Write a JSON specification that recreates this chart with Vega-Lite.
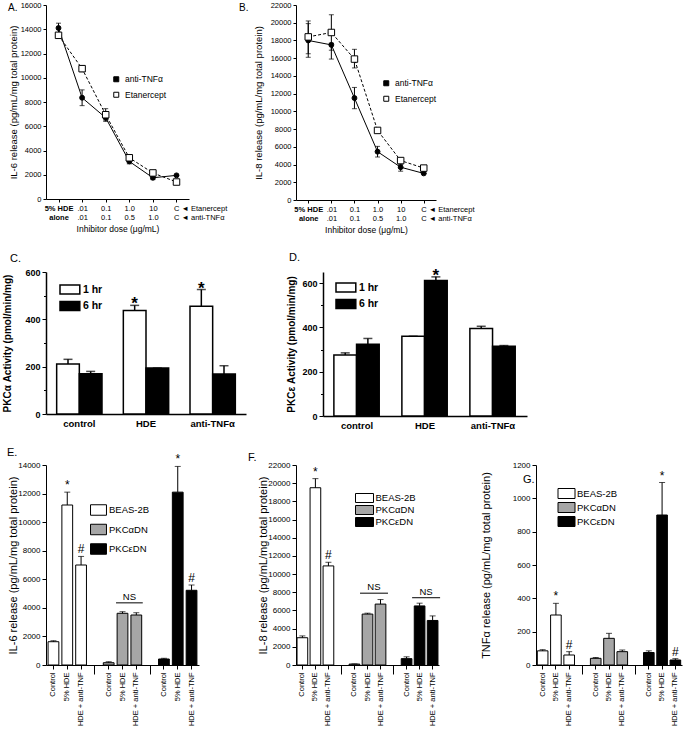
{
  "$schema": "https://vega.github.io/schema/vega-lite/v6.json",
  "background": "white",
  "padding": {"left": 1, "top": 1, "right": 2, "bottom": 2},
  "spacing": 17,
  "resolve": {"scale": {"fill": "independent"}},
  "config": {
    "font": "Liberation Sans",
    "view": {"stroke": null},
    "axis": {"domainColor": "black", "tickColor": "black", "labelColor": "black", "titleColor": "black", "grid": false, "domainWidth": 1, "tickWidth": 1},
    "title": {"color": "black", "fontWeight": "normal", "fontSize": 11, "frame": "group"},
    "legend": {"labelColor": "black", "padding": 0}
  },
  "vconcat": [
    {
      "resolve": {"scale": {"fill": "independent"}},
      "hconcat": [
        {
          "width": 143, "height": 194,
          "title": {"text": "A.", "anchor": "start", "frame": "group", "dx": -38, "offset": -12, "fontSize": 10},
          "data": {"values": [
            {"dose": "5% HDE|alone", "series": "anti-TNFα", "value": 14100, "lo": 13700, "hi": 14500},
            {"dose": ".01|.01", "series": "anti-TNFα", "value": 8350, "lo": 7700, "hi": 9000},
            {"dose": "0.1|0.1", "series": "anti-TNFα", "value": 6700, "lo": 6400, "hi": 7000},
            {"dose": "1.0|0.5", "series": "anti-TNFα", "value": 3100, "lo": 2900, "hi": 3300},
            {"dose": "10|1.0", "series": "anti-TNFα", "value": 1750, "lo": 1600, "hi": 1900},
            {"dose": "C|C", "series": "anti-TNFα", "value": 1950, "lo": 1950, "hi": 1950},
            {"dose": "5% HDE|alone", "series": "Etanercept", "value": 13500, "lo": 13400, "hi": 13600},
            {"dose": ".01|.01", "series": "Etanercept", "value": 10750, "lo": 10500, "hi": 11000},
            {"dose": "0.1|0.1", "series": "Etanercept", "value": 6950, "lo": 6500, "hi": 7450},
            {"dose": "1.0|0.5", "series": "Etanercept", "value": 3400, "lo": 3250, "hi": 3550},
            {"dose": "10|1.0", "series": "Etanercept", "value": 2150, "lo": 2100, "hi": 2200},
            {"dose": "C|C", "series": "Etanercept", "value": 1400, "lo": 1350, "hi": 1450}
          ]},
          "encoding": {
            "x": {"field": "dose", "type": "ordinal", "sort": null,
              "scale": {"type": "point", "padding": 0.53},
              "axis": {"title": "Inhibitor dose (μg/mL)", "titleFontSize": 8.5, "titleFontWeight": "normal", "titlePadding": 3,
                "labelAngle": 0, "labelFontSize": 7.5, "labelLineHeight": 9.5, "tickSize": 3, "labelPadding": 2,
                "labelExpr": "datum.value == 'C|C' ? ['C  ◄ Etanercept', 'C  ◄ anti-TNFα'] : split(datum.value, '|')",
                "labelAlign": {"condition": {"test": "datum.value == 'C|C'", "value": "left"}, "value": "center"},
                "labelOffset": {"condition": {"test": "datum.value == 'C|C'", "value": -3}, "value": 0},
                "labelFontWeight": {"condition": {"test": "datum.value == '5% HDE|alone'", "value": "bold"}, "value": "normal"}}}
          },
          "layer": [
            {"mark": {"type": "rule", "color": "black", "strokeWidth": 1},
              "encoding": {"y": {"field": "lo", "type": "quantitative", "scale": {"domain": [0, 16000]}, "title": "IL-6 release (pg/mL/mg total protein)",
                  "axis": {"values": [0, 2000, 4000, 6000, 8000, 10000, 12000, 14000, 16000], "tickCount": 50, "format": "d", "labelOverlap": false, "labelFontSize": 7.5, "tickSize": 3, "titleFontSize": 9.5, "titleFontWeight": "normal", "titleX": -28}},
                "y2": {"field": "hi"}}},
            {"mark": {"type": "tick", "color": "black", "thickness": 1, "size": 5},
              "encoding": {"y": {"field": "lo", "type": "quantitative"}}},
            {"mark": {"type": "tick", "color": "black", "thickness": 1, "size": 5},
              "encoding": {"y": {"field": "hi", "type": "quantitative"}}},
            {"transform": [{"filter": "datum.series == 'anti-TNFα'"}],
              "mark": {"type": "line", "color": "black", "strokeWidth": 1},
              "encoding": {"y": {"field": "value", "type": "quantitative", "title": "IL-6 release (pg/mL/mg total protein)"}}},
            {"transform": [{"filter": "datum.series == 'Etanercept'"}],
              "mark": {"type": "line", "color": "black", "strokeWidth": 1, "strokeDash": [3, 2]},
              "encoding": {"y": {"field": "value", "type": "quantitative", "title": "IL-6 release (pg/mL/mg total protein)"}}},
            {"mark": {"type": "point", "filled": true, "stroke": "black", "strokeWidth": 1, "opacity": 1},
              "encoding": {
                "y": {"field": "value", "type": "quantitative"},
                "shape": {"condition": {"test": "datum.series == 'anti-TNFα'", "value": "circle"}, "value": "square"},
                "size": {"condition": {"test": "datum.series == 'anti-TNFα'", "value": 24}, "value": 42},
                "fill": {"field": "series", "type": "nominal", "scale": {"domain": ["anti-TNFα", "Etanercept"], "range": ["black", "white"]},
                  "legend": {"title": null, "orient": "none", "legendX": 66, "legendY": 70, "labelFontSize": 8.5, "symbolSize": 25, "labelOffset": 4.5, "symbolStrokeColor": "black", "symbolStrokeWidth": 1, "rowPadding": 5.5,
                    "encode": {"symbols": {"update": {
                      "shape": {"signal": "datum.value == 'anti-TNFα' ? 'M-2.4,0H2.4M-1,0A1,1 0 1,1 1,0A1,1 0 1,1 -1,0Z' : 'M-2.6,0H-1.3M1.3,0H2.6M-1.3,-1.3H1.3V1.3H-1.3Z'"},
                      "stroke": {"value": "black"}, "opacity": {"value": 1}}}}}}}}
          ]
        },
        {
          "width": 140, "height": 195,
          "title": {"text": "B.", "anchor": "start", "frame": "group", "dx": -57, "offset": -12, "fontSize": 10},
          "data": {"values": [
            {"dose": "5% HDE|alone", "series": "anti-TNFα", "value": 18000, "lo": 16100, "hi": 19900},
            {"dose": ".01|.01", "series": "anti-TNFα", "value": 17500, "lo": 15900, "hi": 17700},
            {"dose": "0.1|0.1", "series": "anti-TNFα", "value": 11500, "lo": 10300, "hi": 12700},
            {"dose": "1.0|0.5", "series": "anti-TNFα", "value": 5450, "lo": 4850, "hi": 6050},
            {"dose": "10|1.0", "series": "anti-TNFα", "value": 3700, "lo": 3250, "hi": 4000},
            {"dose": "C|C", "series": "anti-TNFα", "value": 3000, "lo": 3000, "hi": 3000},
            {"dose": "5% HDE|alone", "series": "Etanercept", "value": 18400, "lo": 16500, "hi": 20200},
            {"dose": ".01|.01", "series": "Etanercept", "value": 18900, "lo": 16900, "hi": 20900},
            {"dose": "0.1|0.1", "series": "Etanercept", "value": 15900, "lo": 14900, "hi": 17000},
            {"dose": "1.0|0.5", "series": "Etanercept", "value": 7850, "lo": 7650, "hi": 8050},
            {"dose": "10|1.0", "series": "Etanercept", "value": 4450, "lo": 4350, "hi": 4550},
            {"dose": "C|C", "series": "Etanercept", "value": 3600, "lo": 3500, "hi": 3700}
          ]},
          "encoding": {
            "x": {"field": "dose", "type": "ordinal", "sort": null,
              "scale": {"type": "point", "padding": 0.53},
              "axis": {"title": "Inhibitor dose (μg/mL)", "titleFontSize": 8.5, "titleFontWeight": "normal", "titlePadding": 3,
                "labelAngle": 0, "labelFontSize": 7.5, "labelLineHeight": 9.5, "tickSize": 3, "labelPadding": 2,
                "labelExpr": "datum.value == 'C|C' ? ['C  ◄ Etanercept', 'C  ◄ anti-TNFα'] : split(datum.value, '|')",
                "labelAlign": {"condition": {"test": "datum.value == 'C|C'", "value": "left"}, "value": "center"},
                "labelOffset": {"condition": {"test": "datum.value == 'C|C'", "value": -3}, "value": 0},
                "labelFontWeight": {"condition": {"test": "datum.value == '5% HDE|alone'", "value": "bold"}, "value": "normal"}}}
          },
          "layer": [
            {"mark": {"type": "rule", "color": "black", "strokeWidth": 1},
              "encoding": {"y": {"field": "lo", "type": "quantitative", "scale": {"domain": [0, 22000]}, "title": "IL-8 release (pg/mL/mg total protein)",
                  "axis": {"values": [0, 2000, 4000, 6000, 8000, 10000, 12000, 14000, 16000, 18000, 20000, 22000], "tickCount": 50, "format": "d", "labelOverlap": false, "labelFontSize": 7.5, "tickSize": 3, "titleFontSize": 9.5, "titleFontWeight": "normal", "titleX": -33}},
                "y2": {"field": "hi"}}},
            {"mark": {"type": "tick", "color": "black", "thickness": 1, "size": 5},
              "encoding": {"y": {"field": "lo", "type": "quantitative"}}},
            {"mark": {"type": "tick", "color": "black", "thickness": 1, "size": 5},
              "encoding": {"y": {"field": "hi", "type": "quantitative"}}},
            {"transform": [{"filter": "datum.series == 'anti-TNFα'"}],
              "mark": {"type": "line", "color": "black", "strokeWidth": 1},
              "encoding": {"y": {"field": "value", "type": "quantitative", "title": "IL-8 release (pg/mL/mg total protein)"}}},
            {"transform": [{"filter": "datum.series == 'Etanercept'"}],
              "mark": {"type": "line", "color": "black", "strokeWidth": 1, "strokeDash": [3, 2]},
              "encoding": {"y": {"field": "value", "type": "quantitative", "title": "IL-8 release (pg/mL/mg total protein)"}}},
            {"mark": {"type": "point", "filled": true, "stroke": "black", "strokeWidth": 1, "opacity": 1},
              "encoding": {
                "y": {"field": "value", "type": "quantitative"},
                "shape": {"condition": {"test": "datum.series == 'anti-TNFα'", "value": "circle"}, "value": "square"},
                "size": {"condition": {"test": "datum.series == 'anti-TNFα'", "value": 24}, "value": 42},
                "fill": {"field": "series", "type": "nominal", "scale": {"domain": ["anti-TNFα", "Etanercept"], "range": ["black", "white"]},
                  "legend": {"title": null, "orient": "none", "legendX": 86, "legendY": 74, "labelFontSize": 8.5, "symbolSize": 25, "labelOffset": 4.5, "symbolStrokeColor": "black", "symbolStrokeWidth": 1, "rowPadding": 5.5,
                    "encode": {"symbols": {"update": {
                      "shape": {"signal": "datum.value == 'anti-TNFα' ? 'M-2.4,0H2.4M-1,0A1,1 0 1,1 1,0A1,1 0 1,1 -1,0Z' : 'M-2.6,0H-1.3M1.3,0H2.6M-1.3,-1.3H1.3V1.3H-1.3Z'"},
                      "stroke": {"value": "black"}, "opacity": {"value": 1}}}}}}}}
          ]
        }
      ],
      "bounds": "flush",
      "spacing": 107
    },
    {
      "resolve": {"scale": {"fill": "independent"}},
      "hconcat": [
        {
          "width": 200, "height": 142,
          "title": {"text": "C.", "anchor": "start", "frame": "group", "dx": -36, "fontSize": 11},
          "data": {"values": [
            {"grp": "control", "time": "1 hr", "value": 211, "hi": 231},
            {"grp": "control", "time": "6 hr", "value": 170, "hi": 180},
            {"grp": "HDE", "time": "1 hr", "value": 437, "hi": 459, "note": "*"},
            {"grp": "HDE", "time": "6 hr", "value": 194, "hi": 194},
            {"grp": "anti-TNFα", "time": "1 hr", "value": 455, "hi": 526, "note": "*"},
            {"grp": "anti-TNFα", "time": "6 hr", "value": 169, "hi": 204}
          ]},
          "encoding": {
            "x": {"field": "grp", "type": "nominal", "sort": ["control", "HDE", "anti-TNFα"],
              "scale": {"paddingInner": 0.32, "paddingOuter": 0.16},
              "axis": {"title": null, "labelAngle": 0, "ticks": false, "labelFontWeight": "bold", "labelFontSize": 9.5, "labelPadding": 4, "domainWidth": 1.5}},
            "xOffset": {"field": "time", "type": "nominal", "sort": ["1 hr", "6 hr"], "scale": {"paddingInner": 0, "paddingOuter": 0}}
          },
          "layer": [
            {"mark": {"type": "bar", "stroke": "black", "strokeWidth": 1.5},
              "encoding": {
                "y": {"field": "value", "type": "quantitative", "scale": {"domain": [0, 600]},
                  "axis": {"title": "PKCα Activity (pmol/min/mg)", "titleFontSize": 10, "titleFontWeight": "bold", "labelFontSize": 9, "labelFontWeight": "bold", "domainWidth": 1.5, "labelOverlap": false, "titleX": -34,
                    "values": [0, 100, 200, 300, 400, 500, 600], "tickCount": 50, "labelExpr": "datum.value % 200 == 0 ? datum.label : ''",
                    "tickSize": {"condition": {"test": "datum.value % 200 == 0", "value": 4}, "value": 2.5}}},
                "fill": {"field": "time", "type": "nominal", "scale": {"domain": ["1 hr", "6 hr"], "range": ["white", "black"]},
                  "legend": {"title": null, "orient": "none", "legendX": 18.4, "legendY": 12, "symbolType": "M-2.2,-1H2.2V1H-2.2Z", "symbolSize": 81, "symbolStrokeColor": "black", "symbolStrokeWidth": 1.5, "labelFontWeight": "bold", "labelFontSize": 10.5, "labelOffset": 7.5, "rowPadding": 1.5}}}},
            {"mark": {"type": "rule", "color": "black", "strokeWidth": 1.5},
              "encoding": {"y": {"field": "value", "type": "quantitative"}, "y2": {"field": "hi"}}},
            {"mark": {"type": "tick", "color": "black", "thickness": 1.5, "size": 9},
              "encoding": {"y": {"field": "hi", "type": "quantitative"}}},
            {"transform": [{"filter": "datum.note"}],
              "mark": {"type": "text", "fontSize": 17, "fontWeight": "bold", "baseline": "alphabetic", "dy": 4},
              "encoding": {"y": {"field": "hi", "type": "quantitative"}, "text": {"field": "note"}}}
          ]
        },
        {
          "width": 204, "height": 144,
          "title": {"text": "D.", "anchor": "start", "frame": "group", "dx": -34, "fontSize": 11},
          "data": {"values": [
            {"grp": "control", "time": "1 hr", "value": 275, "hi": 285},
            {"grp": "control", "time": "6 hr", "value": 324, "hi": 350},
            {"grp": "HDE", "time": "1 hr", "value": 360, "hi": 360},
            {"grp": "HDE", "time": "6 hr", "value": 612, "hi": 628, "note": "*"},
            {"grp": "anti-TNFα", "time": "1 hr", "value": 395, "hi": 405},
            {"grp": "anti-TNFα", "time": "6 hr", "value": 315, "hi": 318}
          ]},
          "encoding": {
            "x": {"field": "grp", "type": "nominal", "sort": ["control", "HDE", "anti-TNFα"],
              "scale": {"paddingInner": 0.32, "paddingOuter": 0.16},
              "axis": {"title": null, "labelAngle": 0, "ticks": false, "labelFontWeight": "bold", "labelFontSize": 9.5, "labelPadding": 4, "domainWidth": 1.5}},
            "xOffset": {"field": "time", "type": "nominal", "sort": ["1 hr", "6 hr"], "scale": {"paddingInner": 0, "paddingOuter": 0}}
          },
          "layer": [
            {"mark": {"type": "bar", "stroke": "black", "strokeWidth": 1.5},
              "encoding": {
                "y": {"field": "value", "type": "quantitative", "scale": {"domain": [0, 650]},
                  "axis": {"title": "PKCε Activity (pmol/min/mg)", "titleFontSize": 10, "titleFontWeight": "bold", "labelFontSize": 9, "labelFontWeight": "bold", "domainWidth": 1.5, "labelOverlap": false, "titleX": -27,
                    "values": [0, 100, 200, 300, 400, 500, 600], "tickCount": 50, "labelExpr": "datum.value % 200 == 0 ? datum.label : ''",
                    "tickSize": {"condition": {"test": "datum.value % 200 == 0", "value": 4}, "value": 2.5}}},
                "fill": {"field": "time", "type": "nominal", "scale": {"domain": ["1 hr", "6 hr"], "range": ["white", "black"]},
                  "legend": {"title": null, "orient": "none", "legendX": 17.4, "legendY": 10, "symbolType": "M-2.2,-1H2.2V1H-2.2Z", "symbolSize": 81, "symbolStrokeColor": "black", "symbolStrokeWidth": 1.5, "labelFontWeight": "bold", "labelFontSize": 10.5, "labelOffset": 7.5, "rowPadding": 1.5}}}},
            {"mark": {"type": "rule", "color": "black", "strokeWidth": 1.5},
              "encoding": {"y": {"field": "value", "type": "quantitative"}, "y2": {"field": "hi"}}},
            {"mark": {"type": "tick", "color": "black", "thickness": 1.5, "size": 9},
              "encoding": {"y": {"field": "hi", "type": "quantitative"}}},
            {"transform": [{"filter": "datum.note"}],
              "mark": {"type": "text", "fontSize": 17, "fontWeight": "bold", "baseline": "alphabetic", "dy": 4},
              "encoding": {"y": {"field": "hi", "type": "quantitative"}, "text": {"field": "note"}}}
          ]
        }
      ],
      "bounds": "flush",
      "spacing": 77
    },
    {
      "resolve": {"scale": {"fill": "independent"}},
      "hconcat": [
        {
          "width": 153, "height": 200,
          "title": {"text": "E.", "anchor": "start", "frame": "group", "dx": -39, "offset": -5, "fontSize": 11},
          "data": {"values": [
            {"cat": "b:Control", "cell": "BEAS-2B", "value": 1630, "hi": 1700},
            {"cat": "b:5% HDE", "cell": "BEAS-2B", "value": 11200, "hi": 12100, "note": "*"},
            {"cat": "b:HDE + anti-TNF", "cell": "BEAS-2B", "value": 7000, "hi": 7600, "note": "#"},
            {"cat": "a:Control", "cell": "PKCαDN", "value": 160, "hi": 230},
            {"cat": "a:5% HDE", "cell": "PKCαDN", "value": 3620, "hi": 3730},
            {"cat": "a:HDE + anti-TNF", "cell": "PKCαDN", "value": 3500, "hi": 3660},
            {"cat": "e:Control", "cell": "PKCεDN", "value": 420, "hi": 470},
            {"cat": "e:5% HDE", "cell": "PKCεDN", "value": 12100, "hi": 13900, "note": "*"},
            {"cat": "e:HDE + anti-TNF", "cell": "PKCεDN", "value": 5230, "hi": 5600, "note": "#"}
          ]},
          "encoding": {
            "x": {"field": "cat", "type": "nominal",
              "scale": {"domain": ["b:Control", "b:5% HDE", "b:HDE + anti-TNF", "gap1", "a:Control", "a:5% HDE", "a:HDE + anti-TNF", "gap2", "e:Control", "e:5% HDE", "e:HDE + anti-TNF"], "paddingInner": 0.22, "paddingOuter": 0.15},
              "axis": {"title": null, "labelAngle": -90, "labelFontSize": 7.5, "labelPadding": 3,
                "labelExpr": "indexof(datum.value, ':') > 0 ? split(datum.value, ':')[1] : ''",
                "tickSize": {"condition": {"test": "indexof(datum.value, 'gap') == 0", "value": 9}, "value": 4}}}
          },
          "layer": [
            {"mark": {"type": "bar", "stroke": "black", "strokeWidth": 1},
              "encoding": {
                "y": {"field": "value", "type": "quantitative", "scale": {"domain": [0, 14000]},
                  "axis": {"title": "IL-6 release (pg/mL/mg total protein)", "titleFontSize": 11, "titleFontWeight": "normal", "labelFontSize": 8, "format": "d", "tickSize": 4, "labelOverlap": false, "titleX": -28,
                    "values": [0, 2000, 4000, 6000, 8000, 10000, 12000, 14000], "tickCount": 50}},
                "fill": {"field": "cell", "type": "nominal", "scale": {"domain": ["BEAS-2B", "PKCαDN", "PKCεDN"], "range": ["white", "#a6a6a6", "black"]},
                  "legend": {"title": null, "orient": "none", "legendX": 46.5, "legendY": 39, "symbolType": "M-1.52,-1H1.52V1H-1.52Z", "symbolSize": 110, "symbolStrokeColor": "black", "symbolStrokeWidth": 1, "labelFontSize": 9.5, "labelOffset": 4.5, "rowPadding": 3.5}}}},
            {"mark": {"type": "rule", "color": "black", "strokeWidth": 1},
              "encoding": {"y": {"field": "value", "type": "quantitative"}, "y2": {"field": "hi"}}},
            {"mark": {"type": "tick", "color": "black", "thickness": 1, "size": 6},
              "encoding": {"y": {"field": "hi", "type": "quantitative"}}},
            {"transform": [{"filter": "datum.note"}],
              "mark": {"type": "text", "fontSize": 12, "baseline": "alphabetic", "dy": -3},
              "encoding": {"y": {"field": "hi", "type": "quantitative"}, "text": {"field": "note"}}},
            {"data": {"values": [{"from": "a:5% HDE", "to": "a:HDE + anti-TNF", "y": 4350, "label": "NS"}]},
              "mark": {"type": "rule", "color": "black", "strokeWidth": 1},
              "encoding": {"x": {"field": "from", "type": "nominal", "bandPosition": -0.1}, "x2": {"field": "to", "bandPosition": 1.1}, "y": {"field": "y", "type": "quantitative"}}},
            {"data": {"values": [{"from": "a:5% HDE", "to": "a:HDE + anti-TNF", "y": 4350, "label": "NS"}]},
              "mark": {"type": "text", "fontSize": 9.5, "baseline": "alphabetic", "dy": -3},
              "encoding": {"x": {"field": "from", "type": "nominal", "bandPosition": 1.14}, "y": {"field": "y", "type": "quantitative"}, "text": {"field": "label"}}}
          ]
        },
        {
          "width": 143, "height": 200,
          "title": {"text": "F.", "anchor": "start", "frame": "group", "dx": -48, "offset": -2, "fontSize": 11},
          "data": {"values": [
            {"cat": "b:Control", "cell": "BEAS-2B", "value": 3000, "hi": 3200},
            {"cat": "b:5% HDE", "cell": "BEAS-2B", "value": 19500, "hi": 20500, "note": "*"},
            {"cat": "b:HDE + anti-TNF", "cell": "BEAS-2B", "value": 10900, "hi": 11300, "note": "#"},
            {"cat": "a:Control", "cell": "PKCαDN", "value": 100, "hi": 120},
            {"cat": "a:5% HDE", "cell": "PKCαDN", "value": 5600, "hi": 5700},
            {"cat": "a:HDE + anti-TNF", "cell": "PKCαDN", "value": 6700, "hi": 7200},
            {"cat": "e:Control", "cell": "PKCεDN", "value": 700, "hi": 900},
            {"cat": "e:5% HDE", "cell": "PKCεDN", "value": 6500, "hi": 6800},
            {"cat": "e:HDE + anti-TNF", "cell": "PKCεDN", "value": 4900, "hi": 5400}
          ]},
          "encoding": {
            "x": {"field": "cat", "type": "nominal",
              "scale": {"domain": ["b:Control", "b:5% HDE", "b:HDE + anti-TNF", "gap1", "a:Control", "a:5% HDE", "a:HDE + anti-TNF", "gap2", "e:Control", "e:5% HDE", "e:HDE + anti-TNF"], "paddingInner": 0.18, "paddingOuter": 0.08},
              "axis": {"title": null, "labelAngle": -90, "labelFontSize": 7.5, "labelPadding": 3,
                "labelExpr": "indexof(datum.value, ':') > 0 ? split(datum.value, ':')[1] : ''",
                "tickSize": {"condition": {"test": "indexof(datum.value, 'gap') == 0", "value": 9}, "value": 4}}}
          },
          "layer": [
            {"mark": {"type": "bar", "stroke": "black", "strokeWidth": 1},
              "encoding": {
                "y": {"field": "value", "type": "quantitative", "scale": {"domain": [0, 22000]},
                  "axis": {"title": "IL-8 release (pg/mL/mg total protein)", "titleFontSize": 11, "titleFontWeight": "normal", "labelFontSize": 8, "format": "d", "tickSize": 4, "labelOverlap": false, "titleX": -28,
                    "values": [0, 2000, 4000, 6000, 8000, 10000, 12000, 14000, 16000, 18000, 20000, 22000], "tickCount": 50}},
                "fill": {"field": "cell", "type": "nominal", "scale": {"domain": ["BEAS-2B", "PKCαDN", "PKCεDN"], "range": ["white", "#a6a6a6", "black"]},
                  "legend": {"title": null, "orient": "none", "legendX": 63.5, "legendY": 28, "symbolType": "M-2,-1H2V1H-2Z", "symbolSize": 81, "symbolStrokeColor": "black", "symbolStrokeWidth": 1, "labelFontSize": 9.5, "labelOffset": 6, "rowPadding": -5}}}},
            {"mark": {"type": "rule", "color": "black", "strokeWidth": 1},
              "encoding": {"y": {"field": "value", "type": "quantitative"}, "y2": {"field": "hi"}}},
            {"mark": {"type": "tick", "color": "black", "thickness": 1, "size": 6},
              "encoding": {"y": {"field": "hi", "type": "quantitative"}}},
            {"transform": [{"filter": "datum.note"}],
              "mark": {"type": "text", "fontSize": 12, "baseline": "alphabetic", "dy": -3},
              "encoding": {"y": {"field": "hi", "type": "quantitative"}, "text": {"field": "note"}}},
            {"data": {"values": [{"from": "a:5% HDE", "to": "a:HDE + anti-TNF", "y": 7900, "label": "NS"}, {"from": "e:5% HDE", "to": "e:HDE + anti-TNF", "y": 7400, "label": "NS"}]},
              "mark": {"type": "rule", "color": "black", "strokeWidth": 1},
              "encoding": {"x": {"field": "from", "type": "nominal", "bandPosition": -0.2}, "x2": {"field": "to", "bandPosition": 1.2}, "y": {"field": "y", "type": "quantitative"}}},
            {"data": {"values": [{"from": "a:5% HDE", "to": "a:HDE + anti-TNF", "y": 7900, "label": "NS"}, {"from": "e:5% HDE", "to": "e:HDE + anti-TNF", "y": 7400, "label": "NS"}]},
              "mark": {"type": "text", "fontSize": 9.5, "baseline": "alphabetic", "dy": -3},
              "encoding": {"x": {"field": "from", "type": "nominal", "bandPosition": 1.1}, "y": {"field": "y", "type": "quantitative"}, "text": {"field": "label"}}}
          ]
        },
        {
          "width": 146, "height": 200,
          "title": {"text": "G.", "anchor": "start", "frame": "group", "dx": -13, "offset": -24, "fontSize": 11},
          "data": {"values": [
            {"cat": "b:Control", "cell": "BEAS-2B", "value": 85, "hi": 92},
            {"cat": "b:5% HDE", "cell": "BEAS-2B", "value": 300, "hi": 370, "note": "*"},
            {"cat": "b:HDE + anti-TNF", "cell": "BEAS-2B", "value": 60, "hi": 80, "note": "#"},
            {"cat": "a:Control", "cell": "PKCαDN", "value": 40, "hi": 45},
            {"cat": "a:5% HDE", "cell": "PKCαDN", "value": 160, "hi": 190},
            {"cat": "a:HDE + anti-TNF", "cell": "PKCαDN", "value": 80, "hi": 90},
            {"cat": "e:Control", "cell": "PKCεDN", "value": 75, "hi": 85},
            {"cat": "e:5% HDE", "cell": "PKCεDN", "value": 900, "hi": 1095, "note": "*"},
            {"cat": "e:HDE + anti-TNF", "cell": "PKCεDN", "value": 30, "hi": 38, "note": "#"}
          ]},
          "encoding": {
            "x": {"field": "cat", "type": "nominal",
              "scale": {"domain": ["b:Control", "b:5% HDE", "b:HDE + anti-TNF", "gap1", "a:Control", "a:5% HDE", "a:HDE + anti-TNF", "gap2", "e:Control", "e:5% HDE", "e:HDE + anti-TNF"], "paddingInner": 0.2, "paddingOuter": 0.1},
              "axis": {"title": null, "labelAngle": -90, "labelFontSize": 7.5, "labelPadding": 3,
                "labelExpr": "indexof(datum.value, ':') > 0 ? split(datum.value, ':')[1] : ''",
                "tickSize": {"condition": {"test": "indexof(datum.value, 'gap') == 0", "value": 9}, "value": 4}}}
          },
          "layer": [
            {"mark": {"type": "bar", "stroke": "black", "strokeWidth": 1},
              "encoding": {
                "y": {"field": "value", "type": "quantitative", "scale": {"domain": [0, 1200]},
                  "axis": {"title": "TNFα release (pg/mL/mg total protein)", "titleFontSize": 11, "titleFontWeight": "normal", "labelFontSize": 8, "format": "d", "tickSize": 4, "labelOverlap": false, "titleX": -45,
                    "values": [0, 200, 400, 600, 800, 1000, 1200], "tickCount": 50}},
                "fill": {"field": "cell", "type": "nominal", "scale": {"domain": ["BEAS-2B", "PKCαDN", "PKCεDN"], "range": ["white", "#a6a6a6", "black"]},
                  "legend": {"title": null, "orient": "none", "legendX": 25, "legendY": 23, "symbolType": "M-1.7,-1H1.7V1H-1.7Z", "symbolSize": 100, "symbolStrokeColor": "black", "symbolStrokeWidth": 1, "labelFontSize": 9.5, "labelOffset": 5, "rowPadding": -1}}}},
            {"mark": {"type": "rule", "color": "black", "strokeWidth": 1},
              "encoding": {"y": {"field": "value", "type": "quantitative"}, "y2": {"field": "hi"}}},
            {"mark": {"type": "tick", "color": "black", "thickness": 1, "size": 6},
              "encoding": {"y": {"field": "hi", "type": "quantitative"}}},
            {"transform": [{"filter": "datum.note"}],
              "mark": {"type": "text", "fontSize": 12, "baseline": "alphabetic", "dy": -3},
              "encoding": {"y": {"field": "hi", "type": "quantitative"}, "text": {"field": "note"}}}
          ]
        }
      ],
      "bounds": "flush",
      "spacing": 97
    }
  ]
}
